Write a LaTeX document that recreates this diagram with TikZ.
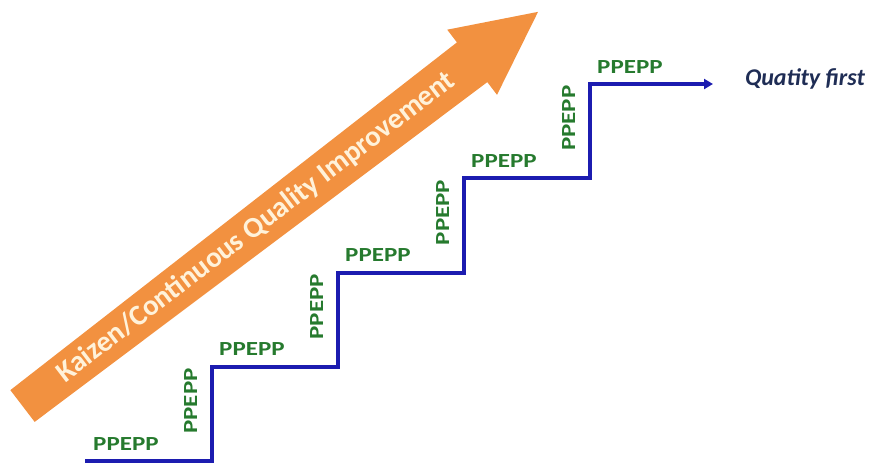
\documentclass[tikz,border=0pt]{standalone}
\usepackage{fontspec}
\setmainfont{Carlito}
\newfontfamily\stepfont[FakeStretch=1.25]{Carlito}
\usetikzlibrary{arrows.meta}
\definecolor{kaizenorange}{RGB}{242,145,64}
\definecolor{stairblue}{RGB}{28,28,176}
\definecolor{pdcagreen}{RGB}{38,122,46}
\definecolor{notenavy}{RGB}{31,45,85}

\begin{document}
\begin{tikzpicture}[x=1pt, y=-1pt,
  steplabel/.style={font=\stepfont\bfseries\fontsize{20}{20}\selectfont, text=pdcagreen, inner sep=0pt},
  stair/.style={line width=4pt, draw=stairblue, -{Triangle[length=9pt,width=10pt]}}]
\useasboundingbox (0,0) rectangle (873,467);
% big arrow behind the stairs
\begin{scope}[shift={(22.5,406)}, rotate=37.4]
  \fill[kaizenorange] (0,-20) -- (566,-25) -- (566,-41) -- (649,0) -- (566,41) -- (566,25) -- (0,20) -- cycle;
  \node[transform shape, inner sep=0pt, text={rgb,255:red,255;green,242;blue,218},
    font=\bfseries\fontsize{29}{29}\selectfont] (kaizen) at (294,0) {Kaizen/Continuous Quality Improvement};
\end{scope}
% stairs
\coordinate (s0) at (85,461);
\foreach \i in {0,...,3} {
  \coordinate (b\i) at (212+126*\i, 461-94.25*\i);
  \coordinate (t\i) at (212+126*\i, 461-94.25*\i-94.25);
}
\coordinate (goal) at (713,84);
\draw[stair] (s0) -- (b0) -- (t0) -- (b1) -- (t1) -- (b2) -- (t2) -- (b3) -- (t3) -- (goal);
% step labels
\foreach \i in {0,...,4}
  \node[steplabel, anchor=base west] (hlab\i) at (93+126*\i, 450-94.25*\i) {PPEPP};
\foreach \i in {0,...,3}
  \node[steplabel, rotate=90, anchor=base east] (vlab\i) at (197+126*\i, 368-94.25*\i) {PPEPP};
\node[font=\bfseries\itshape\fontsize{24}{24}\selectfont, text=notenavy] (quality) at (805,79) {Quatity first};
\end{tikzpicture}
\end{document}
